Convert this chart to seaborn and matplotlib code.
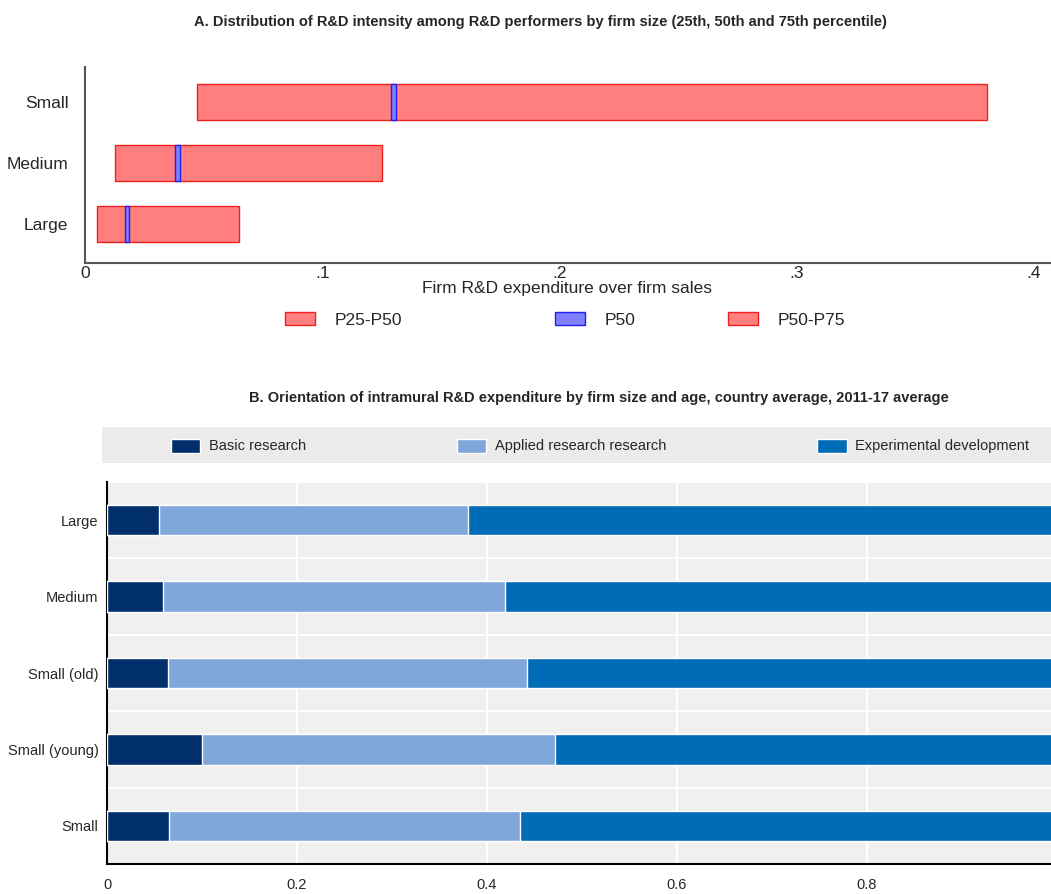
import numpy as np
import pandas as pd
import seaborn as sns
import matplotlib.pyplot as plt
from matplotlib.patches import Patch, Rectangle

# Panel A: R&D intensity percentiles by firm size
sizes_a = ["Large", "Medium", "Small"]
p25 = [0.005, 0.0126, 0.047]
p50 = [0.0177, 0.039, 0.130]
p75 = [0.065, 0.125, 0.380]

# Panel B: orientation of intramural R&D expenditure (shares)
cats_b = ["Large", "Medium", "Small (old)", "Small (young)", "Small"]
basic = [0.055, 0.059, 0.064, 0.100, 0.065]
applied = [0.325, 0.360, 0.378, 0.372, 0.370]
experimental = [0.620, 0.581, 0.558, 0.528, 0.565]

sns.set_theme(style="white")
plt.rcParams["font.family"] = ["Liberation Sans", "DejaVu Sans"]

fig = plt.figure(figsize=(10.51, 8.94), dpi=100)

# ---------- Panel A ----------
axA = fig.add_axes([85 / 1051, 1 - 263 / 894, 965 / 1051, 196 / 894])
red_fill, red_edge = "#ff7f7f", "#ee2020"
blue_fill, blue_edge = "#7f7fff", "#2020ee"
ypos = np.arange(len(sizes_a))
lo = np.array(p25)
mid = np.array(p50)
hi = np.array(p75)
axA.barh(ypos, mid - lo, left=lo, height=0.59, color=red_fill, edgecolor=red_edge, linewidth=1)
axA.barh(ypos, hi - mid, left=mid, height=0.59, color=red_fill, edgecolor=red_edge, linewidth=1)
axA.barh(ypos, 0.002, left=mid - 0.001, height=0.59, color=blue_fill, edgecolor=blue_edge, linewidth=1)
axA.set_yticks(ypos, sizes_a, fontsize=12.5)
axA.set_ylim(-0.64, 2.57)
axA.set_xlim(0, 0.4067)
axA.set_xticks([0, 0.1, 0.2, 0.3, 0.4], ["0", ".1", ".2", ".3", ".4"], fontsize=12.5)
axA.tick_params(axis="x", length=0, pad=2)
axA.tick_params(axis="y", length=0, pad=12)
for s in ["top", "right"]:
    axA.spines[s].set_visible(False)
for s in ["left", "bottom"]:
    axA.spines[s].set_color("#555555")
    axA.spines[s].set_linewidth(1.5)
axA.set_xlabel("Firm R&D expenditure over firm sales", fontsize=12.5, labelpad=0)

# legend entries of panel A are unevenly spaced, so one small legend per entry
legA = [Patch(facecolor=red_fill, edgecolor=red_edge, label="P25-P50"),
        Patch(facecolor=blue_fill, edgecolor=blue_edge, label="P50"),
        Patch(facecolor=red_fill, edgecolor=red_edge, label="P50-P75")]
for h, xpix in zip(legA, [285, 555, 728]):
    fig.legend(handles=[h], loc="center left", bbox_to_anchor=(xpix / 1051, 1 - 320 / 894),
               frameon=False, fontsize=12.5, borderpad=0, borderaxespad=0,
               handlelength=1.75, handleheight=0.8, handletextpad=1.1)

fig.text(540 / 1051, 1 - 22 / 894,
         "A. Distribution of R&D intensity among R&D performers by firm size (25th, 50th and 75th percentile)",
         ha="center", va="center", fontsize=10.5, fontweight="bold")

# ---------- Panel B ----------
axB = fig.add_axes([107 / 1051, 1 - 864 / 894, 944 / 1051, 382 / 894])
axB.set_facecolor("#f0f0f0")
dfB = pd.DataFrame({"cat": cats_b, "basic": basic, "applied": applied, "exp": experimental})
dfB["c2"] = dfB["basic"] + dfB["applied"]
dfB["c3"] = dfB["c2"] + dfB["exp"]
c_basic, c_applied, c_exp = "#002f6c", "#7fa7d9", "#006bb6"
sns.barplot(data=dfB, x="c3", y="cat", orient="h", color=c_exp, width=0.4, saturation=1, ax=axB, zorder=3)
sns.barplot(data=dfB, x="c2", y="cat", orient="h", color=c_applied, width=0.4, saturation=1, ax=axB, zorder=3)
sns.barplot(data=dfB, x="basic", y="cat", orient="h", color=c_basic, width=0.4, saturation=1, ax=axB, zorder=3)
axB.set_xlim(0, 0.9937)
axB.set_ylim(4.5, -0.5)
axB.set_xlabel("")
axB.set_ylabel("")
axB.set_xticks([0, 0.2, 0.4, 0.6, 0.8], ["0", "0.2", "0.4", "0.6", "0.8"], fontsize=10.5)
axB.set_yticks(range(len(cats_b)), cats_b, fontsize=10.5)
axB.set_yticks(np.arange(-0.5, 4.6, 1), minor=True)
axB.tick_params(axis="y", which="major", length=0, pad=6)
axB.tick_params(axis="y", which="minor", length=5, width=1.2, direction="in", color="black")
axB.tick_params(axis="x", which="major", length=5, width=1.2, direction="in", color="black", pad=10)
axB.grid(axis="x", which="major", color="white", linewidth=1.5, zorder=1)
axB.grid(axis="y", which="minor", color="white", linewidth=1.5, zorder=1)
axB.set_axisbelow(True)
for s in ["top", "right"]:
    axB.spines[s].set_visible(False)
for s in ["left", "bottom"]:
    axB.spines[s].set_color("black")
    axB.spines[s].set_linewidth(1.5)

fig.patches.append(Rectangle((102 / 1051, 1 - 463 / 894), 949 / 1051, 36 / 894,
                             transform=fig.transFigure, facecolor="#ebebeb", edgecolor="none", zorder=0))
legB = [Patch(facecolor=c_basic, label="Basic research"),
        Patch(facecolor=c_applied, label="Applied research research"),
        Patch(facecolor=c_exp, label="Experimental development")]
fig.legend(handles=legB, loc="center", bbox_to_anchor=(600 / 1051, 1 - 446 / 894),
           ncol=3, frameon=False, fontsize=10.5, columnspacing=10.3, handlelength=2.05,
           handleheight=1.1, handletextpad=0.6)

fig.text(599 / 1051, 1 - 398 / 894,
         "B. Orientation of intramural R&D expenditure by firm size and age, country average, 2011-17 average",
         ha="center", va="center", fontsize=10.5, fontweight="bold")

fig.savefig("out.png", dpi=100)
